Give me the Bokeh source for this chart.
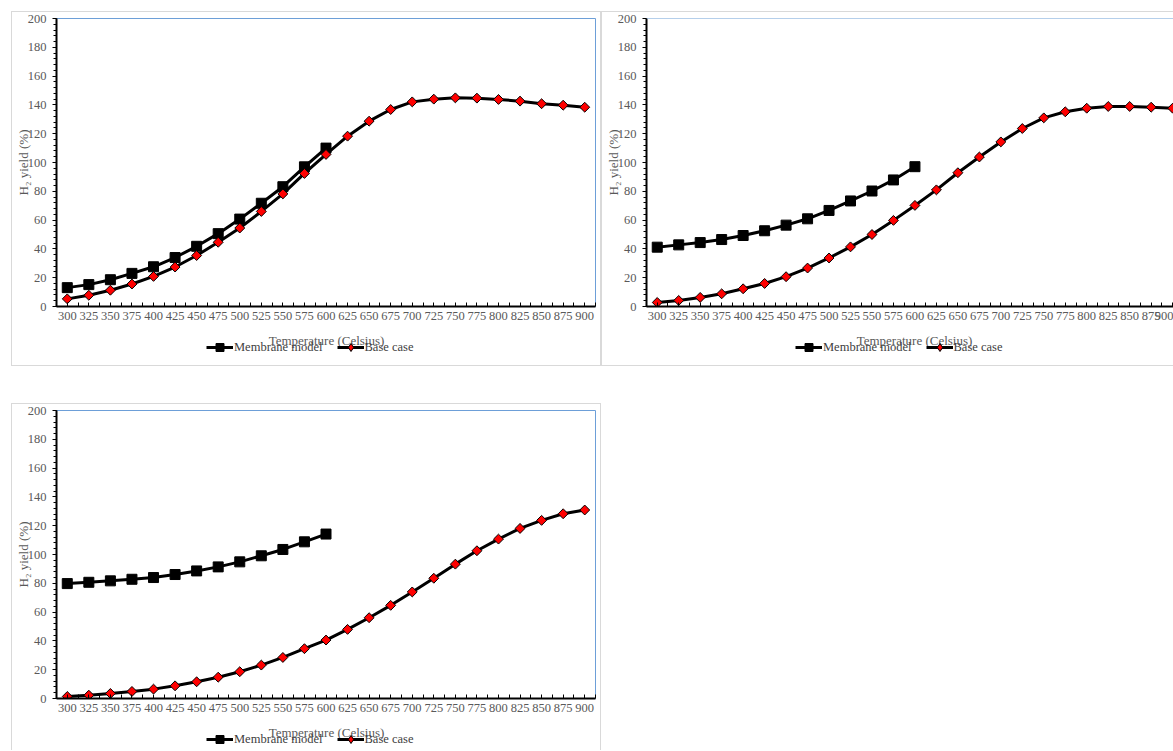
import numpy as np
from bokeh.plotting import figure
from bokeh.layouts import column, row
from bokeh.models import Range1d, FixedTicker, Legend, LegendItem, Span, Label
from bokeh.embed import file_html
from bokeh.resources import INLINE

# Temperatures (Celsius) on the category axis
temps = list(range(300, 925, 25))
membrane_temps = temps[:13]

# H2 yield (%) for the three cases
case1_membrane = [13.1, 15.2, 18.6, 23.0, 27.6, 34.0, 41.8, 50.6, 60.7, 71.7, 83.2, 97.0, 110.0]
case1_base = [5.3, 7.8, 11.3, 15.6, 20.9, 27.4, 35.4, 44.6, 54.5, 66.0, 78.2, 92.4, 105.6,
              118.3, 128.7, 136.8, 142.1, 144.0, 144.9, 144.7, 143.8, 142.6, 140.8, 139.8, 138.4]

case2_membrane = [41.2, 42.8, 44.4, 46.5, 49.3, 52.6, 56.5, 60.9, 66.7, 73.3, 80.2, 87.9, 97.1]
case2_base = [2.8, 4.2, 6.3, 8.8, 12.3, 16.0, 20.7, 26.7, 33.7, 41.4, 50.0, 59.8, 70.2,
              81.0, 92.9, 103.8, 114.3, 123.6, 131.0, 135.2, 137.7, 138.9, 138.9, 138.4, 137.7]

case3_membrane = [79.8, 80.7, 81.7, 82.8, 84.0, 86.1, 88.6, 91.4, 94.9, 99.1, 103.5, 108.8, 114.2]
case3_base = [1.4, 2.3, 3.5, 4.9, 6.5, 8.8, 11.6, 14.8, 18.6, 23.2, 28.5, 34.6, 40.6,
              48.0, 56.1, 64.7, 74.0, 83.5, 93.3, 102.6, 110.7, 118.1, 123.7, 128.3, 130.9]

series_labels = ["Membrane model", "Base case"]
x_title = "Temperature (Celsius)"
y_title = "H\u2082 yield (%)"

y_ticks = list(range(0, 201, 20))
y_minor = list(range(0, 201, 4))

FONT = "Liberation Serif"
GRAY = "#595959"
FRAME_BLUE = "#6d9fd8"
BOX = "1px solid #d9d9d9"
STEP = 25.0          # one category in data units
FRAME_H = 288
BOTTOM = 26          # room for the x tick labels
LEFT = 43            # room for the y tick labels and title


def make_chart(membrane, base, width, top, right, x_end=None, outline=True):
    x_start = temps[0] - STEP / 2
    if x_end is None:
        x_end = temps[-1] + STEP / 2
    p = figure(width=width, height=top + FRAME_H + BOTTOM,
               output_backend="svg", toolbar_location=None,
               x_range=Range1d(x_start, x_end), y_range=Range1d(0, 200),
               min_border_left=LEFT, min_border_top=top,
               min_border_bottom=BOTTOM, min_border_right=right,
               background_fill_color="white", border_fill_color="white")
    p.xgrid.visible = False
    p.ygrid.visible = False
    if outline:
        p.outline_line_color = FRAME_BLUE
        p.outline_line_width = 1
    else:
        p.outline_line_color = None
        p.add_layout(Span(location=200, dimension="width", line_color=FRAME_BLUE, line_width=1))

    # x axis: labels at category centres, ticks inside at centres and boundaries
    xa = p.xaxis[0]
    xa.ticker = FixedTicker(ticks=temps,
                            minor_ticks=[temps[0] - STEP / 2 + STEP * k for k in range(len(temps) + 1)])
    xa.axis_line_color = "black"
    xa.axis_line_width = 2
    xa.major_tick_in = 4
    xa.major_tick_out = 0
    xa.minor_tick_in = 4
    xa.minor_tick_out = 0
    xa.major_tick_line_color = "black"
    xa.minor_tick_line_color = "black"
    xa.major_label_standoff = 5
    xa.major_label_text_font = FONT
    xa.major_label_text_font_size = "12.5px"
    xa.major_label_text_color = GRAY

    # y axis: major every 20, minor every 4, ticks outside
    ya = p.yaxis[0]
    ya.ticker = FixedTicker(ticks=y_ticks, minor_ticks=y_minor)
    ya.axis_line_color = "black"
    ya.axis_line_width = 2
    ya.major_tick_in = 0
    ya.major_tick_out = 4
    ya.minor_tick_in = 0
    ya.minor_tick_out = 3
    ya.major_tick_line_color = "black"
    ya.minor_tick_line_color = "black"
    ya.major_label_standoff = 6
    ya.major_label_text_font = FONT
    ya.major_label_text_font_size = "12.5px"
    ya.major_label_text_color = GRAY
    ya.axis_label = y_title
    ya.axis_label_text_font = FONT
    ya.axis_label_text_font_size = "13px"
    ya.axis_label_text_font_style = "normal"
    ya.axis_label_text_color = GRAY
    ya.axis_label_standoff = -6

    p.line(membrane_temps, membrane, line_color="black", line_width=3)
    p.scatter(membrane_temps, membrane, marker="square", size=10,
              fill_color="black", line_color="black")
    p.line(temps, base, line_color="black", line_width=3)
    p.scatter(temps, base, marker="square", angle=np.pi / 4, size=7,
              fill_color="red", line_color="black", line_width=1)
    return p


def make_key(membrane, base, width, height, title_x, title_y, legend_x, legend_y):
    """Strip under a chart holding the x-axis title and the series key.

    The series are plotted again here only to give the key its glyphs; the
    strip's ranges keep them out of view.
    """
    k = figure(width=width, height=height, output_backend="svg", toolbar_location=None,
               x_range=Range1d(0, 1), y_range=Range1d(0, 1),
               x_axis_type=None, y_axis_type=None,
               min_border_left=0, min_border_right=0, min_border_top=0, min_border_bottom=0,
               background_fill_color="white", border_fill_color="white")
    k.outline_line_color = None
    k.xgrid.visible = False
    k.ygrid.visible = False
    k.add_layout(Label(x=title_x, y=title_y, x_units="screen", y_units="screen",
                       text=x_title, text_align="center", text_baseline="middle",
                       text_font=FONT, text_font_size="13px", text_color=GRAY))
    m_line = k.line(membrane_temps, membrane, line_color="black", line_width=3)
    m_mark = k.scatter(membrane_temps, membrane, marker="square",
                       fill_color="black", line_color="black")
    b_line = k.line(temps, base, line_color="black", line_width=3)
    b_mark = k.scatter(temps, base, marker="diamond", fill_color="red",
                       line_color="black", line_width=1)
    legend = Legend(items=[LegendItem(label=series_labels[0], renderers=[m_line, m_mark]),
                           LegendItem(label=series_labels[1], renderers=[b_line, b_mark])],
                    orientation="horizontal", location=(legend_x, legend_y),
                    padding=0, margin=0, spacing=14, glyph_width=27, glyph_height=20,
                    label_height=20, label_standoff=1,
                    label_text_font=FONT, label_text_font_size="12.5px",
                    label_text_color="#404040",
                    background_fill_alpha=0, border_line_alpha=0)
    k.add_layout(legend, "center")
    return k


# case 1 (top left)
p1 = make_chart(case1_membrane, case1_base, width=588, top=6, right=5)
k1 = make_key(case1_membrane, case1_base, 588, 33,
              title_x=270, title_y=25, legend_x=150, legend_y=8)
c1 = column(p1, k1, styles={"border": BOX})
c1.margin = (11, 0, 0, 11)

# case 2 (top right), running off the right edge of the page
p2_w = 571
p2 = make_chart(case2_membrane, case2_base, width=p2_w, top=6, right=0,
                x_end=901.0, outline=False)
k2 = make_key(case2_membrane, case2_base, p2_w, 33,
              title_x=268, title_y=25, legend_x=149, legend_y=8)
c2 = column(p2, k2, styles={"border-top": BOX, "border-left": BOX, "border-bottom": BOX})
c2.margin = (11, 0, 0, 0)

# case 3 (bottom left)
p3 = make_chart(case3_membrane, case3_base, width=588, top=6, right=5)
k3 = make_key(case3_membrane, case3_base, 588, 26,
              title_x=270, title_y=18, legend_x=150, legend_y=1)
c3 = column(p3, k3, styles={"border-top": BOX, "border-left": BOX, "border-right": BOX})
c3.margin = (37, 0, 0, 11)

layout = column(row(c1, c2), c3)

open("out.html", "w").write(file_html(layout, INLINE))
